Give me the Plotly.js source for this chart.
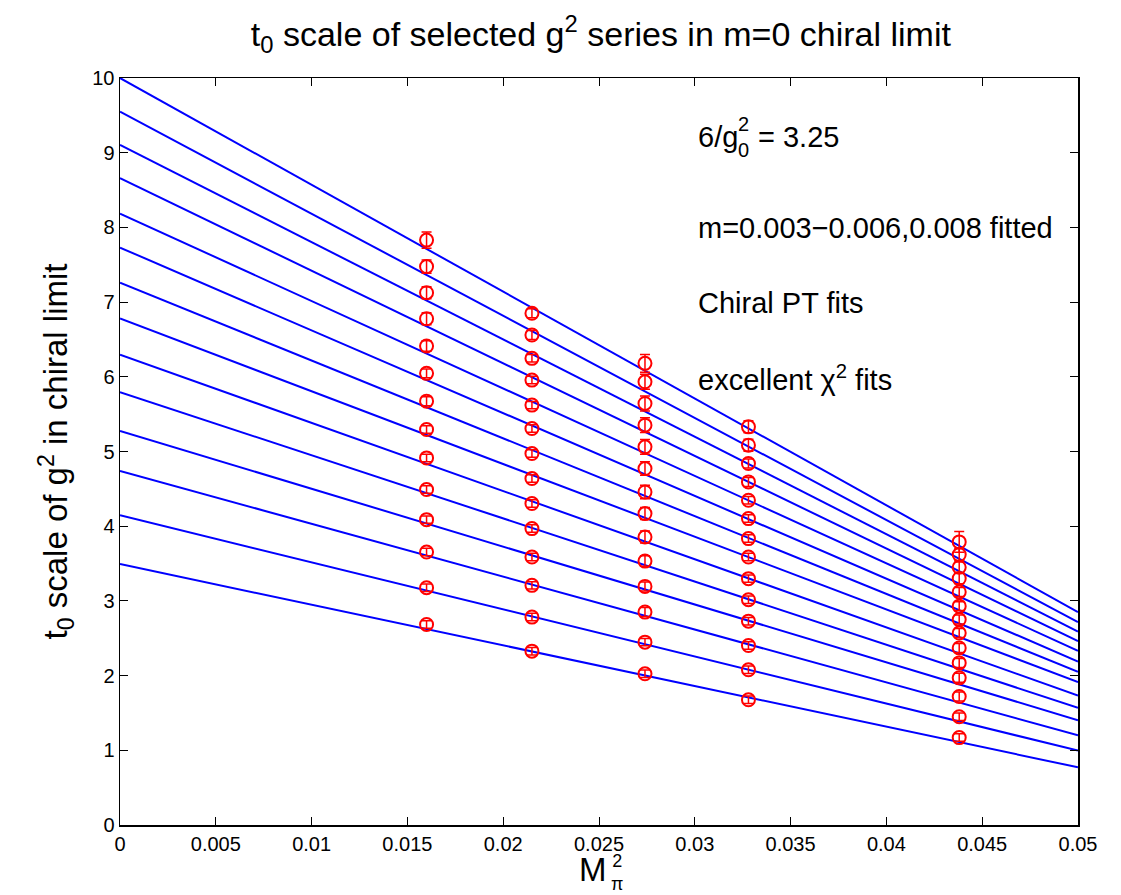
<!DOCTYPE html>
<html>
<head>
<meta charset="utf-8">
<script src="https://cdn.plot.ly/plotly-3.0.1.min.js"></script>
<style>html,body{margin:0;padding:0;background:#fff;}</style>
</head>
<body>
<div id="chart" style="width:1121px;height:895px;"></div>
<script>
// Fit lines: value at M_pi^2 = 0 and at M_pi^2 = 0.05
const fitX = [0, 0.05];
const fitStart = [10.0, 9.55, 9.106, 8.66, 8.185, 7.73, 7.26, 6.78, 6.295, 5.795, 5.276, 4.74, 4.146, 3.493];
const fitEnd   = [2.85, 2.716, 2.59, 2.461, 2.332, 2.189, 2.051, 1.912, 1.733, 1.568, 1.402, 1.201, 0.996, 0.772];

// Measured points: one column per pion mass
const xCols = [0.016, 0.0215, 0.0274, 0.0328, 0.0438];
const col1 = [7.83, 7.475, 7.126, 6.777, 6.412, 6.046, 5.674, 5.295, 4.914, 4.491, 4.088, 3.654, 3.177, 2.685];
const col2 = [6.85, 6.559, 6.247, 5.956, 5.621, 5.308, 4.973, 4.638, 4.303, 3.968, 3.587, 3.208, 2.783, 2.327];
const col3 = [6.18, 5.933, 5.643, 5.353, 5.062, 4.772, 4.458, 4.169, 3.855, 3.533, 3.194, 2.85, 2.448, 2.024];
const col4 = [5.33, 5.084, 4.839, 4.593, 4.347, 4.102, 3.834, 3.587, 3.298, 3.016, 2.729, 2.403, 2.078, 1.676];
const col5 = [3.79, 3.62, 3.45, 3.3, 3.12, 2.93, 2.75, 2.57, 2.37, 2.17, 1.97, 1.72, 1.45, 1.17];
const err1 = [0.11, 0.09, 0.08, 0.08, 0.07, 0.06, 0.06, 0.05, 0.05, 0.05, 0.05, 0.05, 0.05, 0.05];
const err2 = [0.06, 0.06, 0.05, 0.05, 0.05, 0.05, 0.05, 0.05, 0.05, 0.05, 0.05, 0.05, 0.05, 0.05];
const err3 = [0.12, 0.1, 0.1, 0.1, 0.1, 0.09, 0.09, 0.08, 0.08, 0.07, 0.06, 0.06, 0.05, 0.05];
const err4 = [0.08, 0.08, 0.06, 0.06, 0.05, 0.05, 0.05, 0.05, 0.05, 0.05, 0.05, 0.05, 0.05, 0.05];
const err5 = [0.14, 0.08, 0.07, 0.07, 0.06, 0.06, 0.06, 0.06, 0.06, 0.06, 0.06, 0.06, 0.05, 0.05];

const xTickVals = [0, 0.005, 0.01, 0.015, 0.02, 0.025, 0.03, 0.035, 0.04, 0.045, 0.05];
const xTickText = ['0', '0.005', '0.01', '0.015', '0.02', '0.025', '0.03', '0.035', '0.04', '0.045', '0.05'];
const yTickVals = [0, 1, 2, 3, 4, 5, 6, 7, 8, 9, 10];

const FONT = 'Liberation Sans, Arial, Helvetica, sans-serif';
const traces = [];
for (let i = 0; i < fitStart.length; i++) {
  traces.push({
    x: fitX, y: [fitStart[i], fitEnd[i]], mode: 'lines', type: 'scatter',
    line: {color: '#0000ff', width: 2}, hoverinfo: 'skip', showlegend: false
  });
}
const cols = [col1, col2, col3, col4, col5];
const errs = [err1, err2, err3, err4, err5];
cols.forEach((c, j) => {
  traces.push({
    x: c.map(() => xCols[j]), y: c, mode: 'markers', type: 'scatter',
    marker: {symbol: 'circle-open', size: 13, color: '#ff0000', line: {width: 2, color: '#ff0000'}},
    error_y: {type: 'data', array: errs[j], visible: true, color: '#ff0000', thickness: 1.5, width: 5},
    showlegend: false
  });
});

const annFont = {size: 29, family: FONT, color: '#000'};
const smallFont = {size: 20, family: FONT, color: '#000'};
function ann(x, y, text, font, xref, yref, xanchor) {
  return {x: x, y: y, xref: xref || 'x', yref: yref || 'y', xanchor: xanchor || 'left',
          yanchor: 'middle', showarrow: false, text: text, font: font, borderpad: 0};
}
const layout = {
  width: 1121, height: 895,
  margin: {l: 120, r: 43, t: 78, b: 70},
  paper_bgcolor: '#fff', plot_bgcolor: '#fff',
  font: {family: FONT, color: '#000'},
  title: {text: 't<sub>0</sub> scale of selected g<sup>2</sup> series in m=0 chiral limit',
          font: {size: 34, family: FONT}, x: 0.536, xanchor: 'center', y: 0.962, yanchor: 'middle'},
  xaxis: {range: [0, 0.05], tickvals: xTickVals, ticktext: xTickText, ticks: 'inside', ticklen: 8,
          tickcolor: '#000', showline: true, linecolor: '#000', linewidth: 1.5, mirror: 'ticks',
          showgrid: false, zeroline: false, tickfont: {size: 20, family: FONT}},
  yaxis: {range: [0, 10], tickvals: yTickVals, ticks: 'inside', ticklen: 8,
          tickcolor: '#000', showline: true, linecolor: '#000', linewidth: 1.5, mirror: 'ticks',
          showgrid: false, zeroline: false, tickfont: {size: 20, family: FONT},
          title: {text: 't<sub>0</sub> scale of g<sup>2</sup> in chiral limit', font: {size: 33, family: FONT}, standoff: 14}},
  annotations: [
    // 6/g_0^2 = 3.25 with stacked sub/superscript
    ann(0.03009, 9.21, '6/g', annFont),
    ann(0.03218, 9.21, '2<br>0', smallFont),
    ann(0.03322, 9.21, '= 3.25', annFont),
    ann(0.0301, 7.99, 'm=0.003−0.006,0.008 fitted', annFont),
    ann(0.0301, 6.99, 'Chiral PT fits', annFont),
    ann(0.0301, 5.98, 'excellent χ<sup>2</sup> fits', annFont),
    // x-axis title: M with stacked superscript 2 and subscript pi
    ann(0.02546, -0.059, 'M', {size: 33, family: FONT, color: '#000'}, 'x', 'paper', 'right'),
    ann(0.02556, -0.0635, '2<br>π', {size: 18, family: FONT, color: '#000'}, 'x', 'paper', 'left')
  ]
};
Plotly.newPlot('chart', traces, layout, {displayModeBar: false, staticPlot: true});
</script>
</body>
</html>
